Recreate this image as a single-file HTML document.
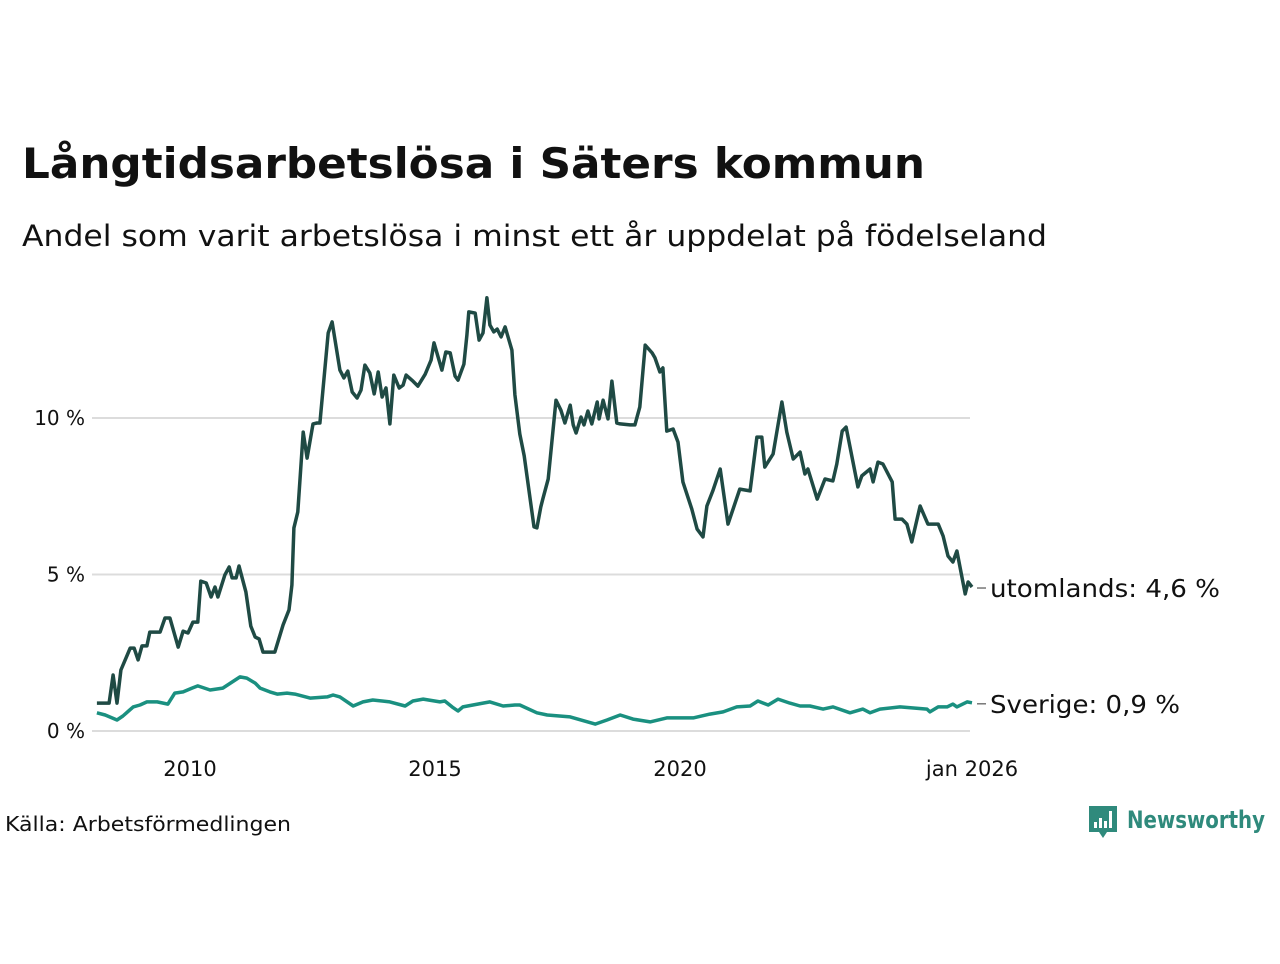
<!DOCTYPE html>
<html><head><meta charset="utf-8"><style>
body{margin:0;background:#fff;width:1280px;height:960px;overflow:hidden;font-family:"DejaVu Sans","Liberation Sans",sans-serif;}
</style></head><body>
<svg id="chart" width="1280" height="960" xmlns="http://www.w3.org/2000/svg">
<text x="22" y="178" font-size="42" font-weight="bold" fill="#111" textLength="903" lengthAdjust="spacingAndGlyphs">Långtidsarbetslösa i Säters kommun</text>
<text x="22" y="246" font-size="29" fill="#111" textLength="1025" lengthAdjust="spacingAndGlyphs">Andel som varit arbetslösa i minst ett år uppdelat på födelseland</text>
<g id="grid"></g>
<g id="yaxis"></g>
<g id="xaxis"></g>
<g id="series"></g>
<g id="labels"></g>
<text x="5" y="831" font-size="20" fill="#111" textLength="286" lengthAdjust="spacingAndGlyphs">Källa: Arbetsförmedlingen</text>
<g>
<path d="M1089 806 h28 v26 h-10 l-4 6 l-4 -6 h-10 z" fill="#2f8a7c"/>
<rect x="1094" y="822" width="3" height="6" fill="#fff"/><rect x="1099" y="818" width="3" height="10" fill="#fff"/><rect x="1104" y="821" width="3" height="7" fill="#fff"/><rect x="1109" y="811" width="3" height="17" fill="#fff"/>
<text x="1127" y="828" font-size="24" font-weight="bold" fill="#2f8a7c" textLength="138" lengthAdjust="spacingAndGlyphs">Newsworthy</text>
</g>
</svg>
<script>
const yTicks=[0,5,10];
const yTickLabels=["0 %","5 %","10 %"];
const xTicks=[2010,2015,2020,2026];
const xTickLabels=["2010","2015","2020","jan 2026"];
const utDates=[2008.10,2008.35,2008.43,2008.51,2008.59,2008.78,2008.86,2008.94,2009.02,2009.12,2009.18,2009.39,2009.49,2009.59,2009.76,2009.86,2009.96,2010.06,2010.16,2010.22,2010.33,2010.43,2010.51,2010.57,2010.71,2010.80,2010.86,2010.94,2011.00,2011.14,2011.24,2011.33,2011.41,2011.49,2011.73,2011.90,2012.02,2012.08,2012.12,2012.20,2012.31,2012.39,2012.51,2012.59,2012.65,2012.82,2012.90,2013.06,2013.14,2013.22,2013.31,2013.41,2013.49,2013.57,2013.67,2013.76,2013.84,2013.92,2014.00,2014.08,2014.16,2014.27,2014.35,2014.41,2014.55,2014.65,2014.80,2014.92,2014.98,2015.14,2015.22,2015.31,2015.41,2015.47,2015.59,2015.65,2015.69,2015.82,2015.90,2015.98,2016.06,2016.12,2016.20,2016.27,2016.35,2016.43,2016.57,2016.63,2016.73,2016.82,2017.02,2017.08,2017.16,2017.20,2017.31,2017.47,2017.57,2017.65,2017.76,2017.82,2017.88,2017.98,2018.04,2018.12,2018.20,2018.31,2018.35,2018.43,2018.53,2018.61,2018.71,2018.78,2018.98,2019.08,2019.18,2019.29,2019.43,2019.49,2019.59,2019.65,2019.73,2019.86,2019.96,2020.06,2020.24,2020.35,2020.47,2020.55,2020.67,2020.82,2020.98,2021.22,2021.43,2021.57,2021.67,2021.73,2021.90,2022.08,2022.18,2022.31,2022.45,2022.55,2022.61,2022.80,2022.96,2023.12,2023.20,2023.31,2023.39,2023.63,2023.71,2023.88,2023.94,2024.04,2024.14,2024.33,2024.39,2024.53,2024.63,2024.73,2024.90,2025.06,2025.27,2025.37,2025.47,2025.57,2025.65,2025.82,2025.88,2025.96];
const utValues=[0.89,0.89,1.79,0.89,1.95,2.65,2.65,2.27,2.72,2.72,3.16,3.16,3.61,3.61,2.68,3.19,3.13,3.48,3.48,4.79,4.73,4.28,4.60,4.28,4.98,5.24,4.89,4.89,5.27,4.44,3.35,3.00,2.94,2.52,2.52,3.39,3.87,4.66,6.49,7.00,9.55,8.72,9.81,9.84,9.84,12.72,13.07,11.53,11.28,11.50,10.83,10.64,10.89,11.69,11.44,10.77,11.47,10.67,10.96,9.81,11.37,10.96,11.05,11.37,11.18,11.02,11.40,11.85,12.40,11.53,12.11,12.08,11.34,11.21,11.72,12.65,13.39,13.35,12.49,12.72,13.84,12.97,12.75,12.84,12.59,12.91,12.17,10.74,9.49,8.79,6.52,6.49,7.16,7.41,8.05,10.57,10.25,9.84,10.41,9.78,9.52,10.03,9.78,10.22,9.81,10.51,9.97,10.57,9.97,11.18,9.84,9.81,9.78,9.78,10.35,12.33,12.08,11.92,11.47,11.60,9.58,9.65,9.23,7.96,7.09,6.45,6.20,7.19,7.67,8.37,6.61,7.73,7.67,9.39,9.39,8.43,8.85,10.51,9.55,8.69,8.91,8.21,8.37,7.41,8.05,7.99,8.53,9.58,9.71,7.80,8.15,8.37,7.96,8.59,8.53,7.96,6.77,6.77,6.61,6.04,7.19,6.61,6.61,6.23,5.59,5.40,5.75,4.38,4.76,4.6];
const svDates=[2008.10,2008.27,2008.51,2008.63,2008.84,2008.98,2009.12,2009.22,2009.33,2009.55,2009.69,2009.86,2010.04,2010.16,2010.41,2010.67,2011.02,2011.16,2011.33,2011.43,2011.63,2011.78,2011.98,2012.14,2012.45,2012.80,2012.92,2013.06,2013.33,2013.53,2013.73,2014.08,2014.39,2014.55,2014.76,2015.10,2015.20,2015.35,2015.47,2015.57,2015.98,2016.12,2016.39,2016.63,2016.73,2017.08,2017.29,2017.76,2018.27,2018.51,2018.78,2019.04,2019.39,2019.73,2020.27,2020.61,2020.88,2021.16,2021.43,2021.59,2021.80,2022.00,2022.24,2022.45,2022.65,2022.92,2023.12,2023.47,2023.73,2023.88,2024.08,2024.49,2025.04,2025.10,2025.27,2025.45,2025.57,2025.65,2025.86,2025.96];
const svValues=[0.58,0.51,0.35,0.48,0.77,0.83,0.93,0.93,0.93,0.86,1.21,1.25,1.37,1.44,1.31,1.37,1.73,1.69,1.53,1.37,1.25,1.18,1.21,1.18,1.05,1.09,1.15,1.09,0.80,0.93,0.99,0.93,0.80,0.96,1.02,0.93,0.96,0.77,0.64,0.77,0.89,0.93,0.80,0.83,0.83,0.58,0.51,0.45,0.22,0.35,0.51,0.38,0.29,0.42,0.42,0.54,0.61,0.77,0.80,0.96,0.83,1.02,0.89,0.80,0.80,0.70,0.77,0.58,0.70,0.58,0.70,0.77,0.70,0.61,0.77,0.77,0.86,0.77,0.93,0.9];
const NS="http://www.w3.org/2000/svg";
function xS(y){return 190+(y-2010)*49;}
function yS(v){return 731-v*31.3;}
function mk(t,a,p){const e=document.createElementNS(NS,t);for(const k in a)e.setAttribute(k,a[k]);p.appendChild(e);return e;}
const grid=document.getElementById('grid'),ya=document.getElementById('yaxis'),xa=document.getElementById('xaxis');
yTicks.forEach((t,i)=>{
  const l=mk('line',{x1:92,x2:970,y1:yS(t),y2:yS(t),stroke:'#dcdcdc','stroke-width':2},grid);
  
  
  const tx=mk('text',{x:85,y:yS(t)+7,'font-size':20,'text-anchor':'end',fill:'#111'},ya);
  tx.textContent=yTickLabels[i];
  
  
});
xTicks.forEach((t,i)=>{
  const tx=mk('text',{x:xS(t)-(i==3?2:0),y:776,'font-size':21,'text-anchor':'middle',fill:'#111'},xa);
  tx.textContent=xTickLabels[i];
  
  
});
const ser=document.getElementById('series');
function line(d,v,c,name){
  const p=mk('polyline',{points:d.map((x,i)=>xS(x).toFixed(1)+','+yS(v[i]).toFixed(1)).join(' '),fill:'none',stroke:c,'stroke-width':3.5,'stroke-linejoin':'round'},ser);
  
  
}
line(svDates,svValues,'#1a9080','line-sverige');
line(utDates,utValues,'#1f4a44','line-utomlands');
const lb=document.getElementById('labels');
function endLabel(d,v,txt,name,w){
  const y=yS(v[v.length-1]);
  mk('line',{x1:977,x2:986,y1:y+1,y2:y+1,stroke:'#555','stroke-width':1.2},lb);
  const t=mk('text',{x:990,y:y+10,'font-size':25,fill:'#111',textLength:w,lengthAdjust:'spacingAndGlyphs'},lb);
  t.textContent=txt;
  
  
}
endLabel(utDates,utValues,'utomlands: 4,6 %','label-utomlands',230);
endLabel(svDates,svValues,'Sverige: 0,9 %','label-sverige',190);
</script>
</body></html>
